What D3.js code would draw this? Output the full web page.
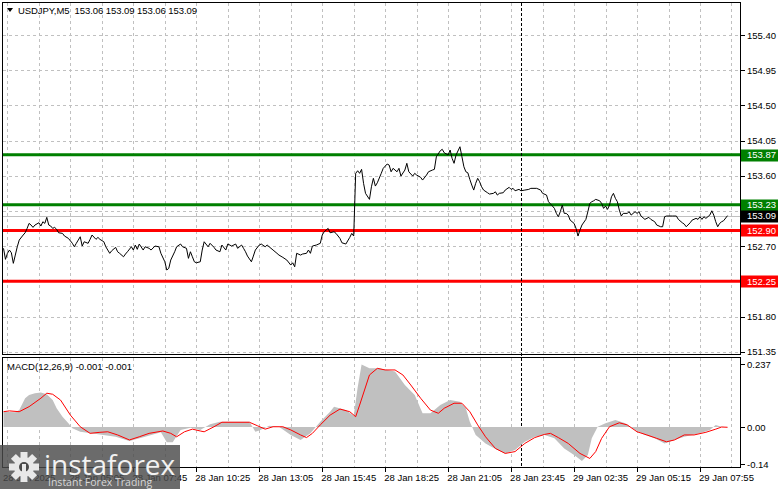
<!DOCTYPE html>
<html><head><meta charset="utf-8">
<script src="https://cdn.jsdelivr.net/npm/d3@7"></script>
<style>
html,body{margin:0;padding:0;background:#fff;overflow:hidden;}
svg{display:block;font-family:"Liberation Sans",Arial,sans-serif;}
</style></head><body>
<svg id="c" width="781" height="489"></svg>
<script>
// ---------- DATA ----------
const symbolTitle = "USDJPY,M5";
const ohlc = [153.06, 153.09, 153.06, 153.09];
const bidPrice = 153.09;
const levels = [153.87, 153.23, 152.90, 152.25];
const priceTicks = [155.40, 154.95, 154.50, 154.05, 153.60, 153.15, 152.70, 152.25, 151.80, 151.35];
const macdTicks = [0.237, 0.00, -0.14];
const macdTickLabels = ["0.237", "0.00", "-0.14"];
const macdTitle = "MACD(12,26,9) -0.001 -0.001";
const timeLabelIdx = [2, 34, 66, 98, 130, 162, 194, 226, 258, 290, 322, 354];
const timeLabels = ["28 Jan 2025", "28 Jan 05:05", "28 Jan 07:45", "28 Jan 10:25", "28 Jan 13:05", "28 Jan 15:45",
  "28 Jan 18:25", "28 Jan 21:05", "28 Jan 23:45", "29 Jan 02:35", "29 Jan 05:15", "29 Jan 07:55"];
const separatorIdx = 263;
const lastBarIdx = 368;
// [bar index, close]
const priceBars = [[0,152.672],[1,152.531],[2,152.608],[3,152.650],[4,152.615],[5,152.480],[6,152.586],[7,152.692],[8,152.778],[10,152.842],[11,152.871],[12,152.927],[13,152.991],[14,152.970],[15,152.940],[16,152.970],[18,152.999],[19,152.957],[20,153.012],[21,152.991],[22,153.068],[23,152.970],[24,152.957],[25,152.927],[26,152.940],[27,152.915],[28,152.871],[30,152.863],[31,152.829],[33,152.799],[35,152.736],[36,152.692],[37,152.736],[39,152.820],[40,152.701],[41,152.756],[43,152.736],[44,152.787],[45,152.842],[47,152.787],[48,152.812],[49,152.787],[51,152.756],[52,152.692],[54,152.608],[55,152.641],[57,152.684],[58,152.628],[59,152.608],[61,152.564],[62,152.599],[63,152.628],[65,152.692],[66,152.650],[67,152.714],[68,152.659],[69,152.727],[71,152.650],[72,152.692],[74,152.672],[75,152.650],[77,152.701],[79,152.692],[80,152.608],[82,152.500],[83,152.394],[84,152.416],[85,152.522],[87,152.628],[88,152.692],[90,152.727],[91,152.692],[93,152.672],[94,152.544],[95,152.628],[96,152.564],[97,152.500],[98,152.487],[100,152.500],[101,152.650],[102,152.756],[104,152.692],[105,152.736],[107,152.684],[108,152.650],[110,152.628],[111,152.714],[113,152.650],[114,152.727],[116,152.701],[118,152.727],[119,152.672],[121,152.714],[122,152.672],[123,152.628],[124,152.573],[126,152.500],[127,152.573],[128,152.650],[130,152.714],[131,152.727],[133,152.692],[134,152.714],[135,152.692],[137,152.650],[139,152.608],[140,152.586],[142,152.556],[144,152.522],[146,152.458],[147,152.487],[148,152.436],[149,152.608],[151,152.586],[152,152.599],[154,152.608],[155,152.650],[156,152.608],[157,152.701],[159,152.714],[161,152.736],[162,152.842],[163,152.884],[165,152.927],[166,152.871],[168,152.884],[169,152.863],[171,152.799],[172,152.743],[174,152.727],[176,152.812],[177,152.863],[178,152.829],[179,153.631],[180,153.664],[181,153.631],[182,153.682],[183,153.503],[184,153.375],[186,153.298],[187,153.459],[188,153.567],[189,153.468],[190,153.510],[192,153.631],[193,153.695],[195,153.750],[196,153.737],[197,153.651],[198,153.695],[200,153.651],[201,153.695],[202,153.596],[204,153.673],[205,153.759],[206,153.651],[208,153.596],[209,153.631],[210,153.609],[212,153.580],[213,153.545],[215,153.609],[216,153.651],[218,153.673],[219,153.682],[220,153.843],[222,153.920],[223,153.938],[224,153.894],[226,153.865],[227,153.929],[228,153.823],[229,153.759],[230,153.865],[232,153.971],[233,153.843],[234,153.715],[235,153.651],[236,153.638],[237,153.554],[238,153.481],[239,153.417],[240,153.503],[241,153.567],[242,153.523],[243,153.459],[244,153.417],[246,153.383],[247,153.366],[249,153.375],[250,153.395],[251,153.353],[252,153.375],[254,153.383],[255,153.417],[257,153.452],[258,153.426],[259,153.439],[260,153.408],[262,153.426],[263,153.408],[265,153.417],[267,153.426],[268,153.439],[271,153.439],[273,153.417],[274,153.375],[276,153.353],[277,153.268],[279,153.213],[280,153.183],[281,153.119],[282,153.076],[283,153.140],[284,153.225],[285,153.119],[286,153.119],[287,153.097],[288,153.033],[290,152.991],[291,152.927],[292,152.829],[293,152.906],[294,152.970],[296,153.042],[297,153.140],[298,153.247],[299,153.268],[300,153.280],[301,153.298],[303,153.280],[304,153.247],[305,153.183],[306,153.213],[307,153.170],[308,153.225],[309,153.331],[310,153.375],[311,153.311],[312,153.268],[313,153.161],[314,153.085],[315,153.119],[317,153.119],[318,153.140],[319,153.097],[321,153.140],[322,153.119],[323,153.140],[324,153.085],[326,153.042],[328,153.068],[329,153.042],[331,153.012],[332,152.970],[334,152.948],[335,152.948],[336,153.076],[337,153.085],[340,153.085],[342,153.085],[343,153.042],[345,152.999],[346,152.982],[347,152.948],[349,152.999],[350,153.033],[352,153.055],[353,153.042],[354,153.076],[355,153.042],[356,153.076],[357,153.055],[359,153.097],[360,153.152],[361,153.097],[362,153.012],[363,152.948],[364,152.991],[365,153.012],[366,153.025],[368,153.090]];
// [bar index, MACD main (histogram)]
const macdHist = [[0,0.058],[6,0.056],[8,0.064],[11,0.109],[13,0.121],[16,0.128],[19,0.131],[22,0.124],[25,0.102],[27,0.071],[30,0.039],[33,0.014],[35,-0.005],[39,-0.018],[49,-0.028],[57,-0.037],[64,-0.053],[72,-0.037],[80,-0.020],[83,-0.058],[86,-0.058],[90,-0.011],[95,-0.003],[100,-0.011],[105,0.010],[110,0.020],[125,0.020],[128,-0.018],[130,-0.013],[135,0.005],[140,0.001],[146,-0.030],[151,-0.049],[156,-0.024],[161,0.020],[166,0.058],[168,0.077],[174,0.064],[178,0.043],[180,0.150],[182,0.237],[186,0.222],[191,0.222],[199,0.210],[204,0.159],[209,0.121],[213,0.052],[217,0.052],[222,0.083],[227,0.102],[232,0.096],[235,0.071],[237,0.020],[240,-0.030],[245,-0.062],[250,-0.083],[255,-0.100],[260,-0.087],[265,-0.056],[270,-0.037],[275,-0.030],[280,-0.043],[285,-0.081],[290,-0.106],[294,-0.129],[297,-0.106],[299,-0.043],[302,0.001],[306,0.014],[311,0.027],[316,0.014],[321,-0.011],[326,-0.030],[331,-0.043],[336,-0.062],[341,-0.049],[346,-0.037],[354,-0.024],[359,-0.011],[362,0.008],[365,0.001],[368,-0.001]];
// [bar index, signal]
const macdSignal = [[0,0.058],[3,0.061],[8,0.058],[13,0.077],[19,0.109],[22,0.128],[25,0.124],[29,0.102],[34,0.045],[39,0.001],[44,-0.024],[49,-0.020],[53,-0.018],[58,-0.030],[64,-0.049],[69,-0.037],[74,-0.024],[81,-0.015],[85,-0.024],[88,-0.037],[92,-0.018],[96,-0.008],[100,-0.015],[102,-0.018],[107,0.001],[111,0.018],[125,0.018],[129,0.005],[133,-0.008],[137,0.001],[142,0.001],[146,-0.011],[151,-0.030],[154,-0.040],[157,-0.024],[161,0.008],[166,0.045],[171,0.068],[176,0.058],[179,0.039],[181,0.083],[186,0.197],[190,0.222],[194,0.216],[199,0.216],[203,0.197],[207,0.159],[212,0.109],[217,0.064],[221,0.052],[224,0.071],[229,0.090],[233,0.090],[237,0.058],[241,0.008],[245,-0.037],[250,-0.081],[255,-0.100],[260,-0.093],[265,-0.062],[270,-0.040],[275,-0.028],[278,-0.024],[282,-0.040],[287,-0.062],[293,-0.100],[298,-0.119],[301,-0.093],[304,-0.043],[308,0.001],[313,0.016],[317,0.008],[322,-0.018],[327,-0.030],[332,-0.043],[337,-0.056],[341,-0.049],[346,-0.030],[351,-0.030],[357,-0.020],[362,-0.008],[365,0.000],[368,-0.001]];

// ---------- LAYOUT / STYLE ----------
const L = 2.5, R = 740.5, mainTop = 2.5, mainBot = 354.5, macdTop = 357.5, macdBot = 467.5;
const GREEN = "#008000", RED = "#ff0000", GRID = "#c0c0c0";
const svg = d3.select("#c");

const x = d3.scaleLinear().domain([0, lastBarIdx]).range([3.5, 3.5 + lastBarIdx * 1.9675]);
const y = d3.scaleLinear().domain([151.35, 155.40]).range([351.7, 35]);
const ym = d3.scaleLinear().domain([-0.14, 0.237]).range([464, 364.4]);

// vertical grid
const gridIdx = d3.range(2, 380, 16).filter(i => x(i) < R - 2);
[[mainTop, mainBot], [macdTop, macdBot]].forEach(([t, b]) => {
  svg.append("g").selectAll("line").data(gridIdx).join("line")
    .attr("x1", d => Math.round(x(d)) + 0.5).attr("x2", d => Math.round(x(d)) + 0.5)
    .attr("y1", t).attr("y2", b)
    .attr("stroke", GRID).attr("stroke-dasharray", "3,3").attr("shape-rendering", "crispEdges");
});
// horizontal grid
svg.append("g").selectAll("line").data(priceTicks).join("line")
  .attr("x1", L).attr("x2", R)
  .attr("y1", d => Math.round(y(d)) + 0.5).attr("y2", d => Math.round(y(d)) + 0.5)
  .attr("stroke", GRID).attr("stroke-dasharray", "3,3").attr("shape-rendering", "crispEdges");

// bid line
svg.append("line").attr("x1", L).attr("x2", R)
  .attr("y1", Math.round(y(bidPrice)) + 0.5).attr("y2", Math.round(y(bidPrice)) + 0.5)
  .attr("stroke", GRID).attr("shape-rendering", "crispEdges");

// level lines
svg.append("g").selectAll("line").data(levels).join("line")
  .attr("x1", L).attr("x2", R).attr("y1", d => y(d)).attr("y2", d => y(d))
  .attr("stroke", d => d > bidPrice ? GREEN : RED).attr("stroke-width", 3);

// separator
svg.append("line").attr("x1", Math.round(x(separatorIdx)) + 0.5).attr("x2", Math.round(x(separatorIdx)) + 0.5)
  .attr("y1", mainTop).attr("y2", macdBot).attr("stroke", "#000").attr("stroke-dasharray", "3,2")
  .attr("shape-rendering", "crispEdges");

// price line
svg.append("path").datum(priceBars)
  .attr("d", d3.line().x(d => x(d[0])).y(d => y(d[1])))
  .attr("fill", "none").attr("stroke", "#000").attr("stroke-width", 1);

// MACD histogram
svg.append("path").datum(macdHist)
  .attr("d", d3.area().x(d => x(d[0])).y0(ym(0)).y1(d => ym(d[1])))
  .attr("fill", "#c0c0c0");
// signal
svg.append("path").datum(macdSignal)
  .attr("d", d3.line().x(d => x(d[0])).y(d => ym(d[1])))
  .attr("fill", "none").attr("stroke", RED).attr("stroke-width", 1);

// frames
svg.append("rect").attr("x", L).attr("y", mainTop).attr("width", R - L).attr("height", mainBot - mainTop)
  .attr("fill", "none").attr("stroke", "#000").attr("shape-rendering", "crispEdges");
svg.append("rect").attr("x", L).attr("y", macdTop).attr("width", R - L).attr("height", macdBot - macdTop)
  .attr("fill", "none").attr("stroke", "#000").attr("shape-rendering", "crispEdges");

// right price axis
const boxes = levels.map(v => ({ v, c: v > bidPrice ? GREEN : RED })).concat([{ v: bidPrice, c: "#000" }]);
const visibleTicks = priceTicks.filter(t => boxes.every(b => Math.abs(y(t) - y(b.v)) > 9));
svg.append("g").selectAll("line").data(priceTicks).join("line")
  .attr("x1", R).attr("x2", R + 4).attr("y1", d => Math.round(y(d)) + 0.5).attr("y2", d => Math.round(y(d)) + 0.5)
  .attr("stroke", "#000").attr("shape-rendering", "crispEdges");
svg.append("g").selectAll("text").data(visibleTicks).join("text")
  .attr("x", 747).attr("y", d => y(d) + 3.5).attr("font-size", 9.5).attr("fill", "#000")
  .text(d => d.toFixed(2));
const bg = svg.append("g").selectAll("g").data(boxes).join("g");
bg.append("rect").attr("x", 741).attr("y", d => Math.round(y(d.v)) - 5.5).attr("width", 37).attr("height", 12)
  .attr("fill", d => d.c);
bg.append("text").attr("x", 747).attr("y", d => y(d.v) + 3.8).attr("font-size", 9.5).attr("fill", "#fff")
  .text(d => d.v.toFixed(2));

// MACD axis
svg.append("g").selectAll("line").data(macdTicks).join("line")
  .attr("x1", R).attr("x2", R + 4).attr("y1", d => Math.round(ym(d)) + 0.5).attr("y2", d => Math.round(ym(d)) + 0.5)
  .attr("stroke", "#000").attr("shape-rendering", "crispEdges");
svg.append("g").selectAll("text").data(macdTicks).join("text")
  .attr("x", 747).attr("y", d => ym(d) + 3.5).attr("font-size", 9.5).attr("fill", "#000")
  .text((d, i) => macdTickLabels[i]);

// time axis
svg.append("g").selectAll("line").data(timeLabelIdx.slice(1)).join("line")
  .attr("x1", d => Math.round(x(d)) + 0.5).attr("x2", d => Math.round(x(d)) + 0.5)
  .attr("y1", macdBot).attr("y2", macdBot + 4).attr("stroke", "#000").attr("shape-rendering", "crispEdges");
svg.append("g").selectAll("text").data(timeLabelIdx).join("text")
  .attr("x", (d, i) => i === 0 ? 3 : x(d) - 1).attr("y", 481).attr("font-size", 9.5).attr("fill", "#000")
  .text((d, i) => timeLabels[i]);

// header
svg.append("path").attr("d", "M7,8 L13,8 L10,12 Z").attr("fill", "#000");
svg.append("text").attr("x", 18).attr("y", 14).attr("font-size", 9.5).attr("fill", "#000")
  .attr("xml:space", "preserve").style("white-space", "pre")
  .attr("textLength", 179).attr("lengthAdjust", "spacing")
  .text(symbolTitle + "  " + ohlc.map(v => v.toFixed(2)).join(" "));
svg.append("text").attr("x", 7).attr("y", 370).attr("font-size", 9.5).attr("fill", "#000").text(macdTitle);

// watermark
const wm = svg.append("g");
wm.append("rect").attr("x", 0).attr("y", 445).attr("width", 180).attr("height", 44)
  .attr("fill", "#4a4a4a").attr("opacity", 0.82);
const gear = wm.append("g").attr("transform", "translate(24,467)");
d3.range(8).forEach(k => {
  gear.append("rect").attr("x", -3.5).attr("y", -15).attr("width", 7).attr("height", 8)
    .attr("fill", "#e8e8e8").attr("transform", `rotate(${k * 45})`);
});
gear.append("circle").attr("r", 10).attr("fill", "#e8e8e8");
gear.append("circle").attr("r", 5).attr("fill", "#4a4a4a");
gear.append("rect").attr("x", -2).attr("y", -3).attr("width", 4).attr("height", 14).attr("fill", "#e8e8e8");
wm.append("text").attr("x", 44).attr("y", 475).attr("font-family", "'Open Sans', sans-serif")
  .attr("font-size", 28).attr("fill", "#f2f2f2").text("instaforex");
wm.append("text").attr("x", 48).attr("y", 486).attr("font-family", "'Open Sans', sans-serif")
  .attr("font-size", 10.5).attr("fill", "#d8d8d8").text("Instant Forex Trading");
</script>
</body></html>
